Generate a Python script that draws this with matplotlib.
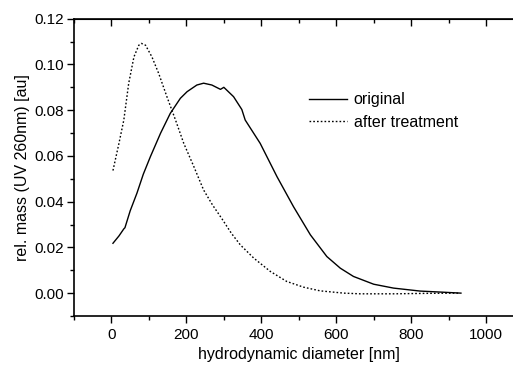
import matplotlib.pyplot as plt
from matplotlib.ticker import MultipleLocator

# original sample
x_orig = [4, 20, 33, 36, 50, 68, 85, 104, 131, 157, 184, 202, 228, 246, 268, 291, 300,
          326, 348, 357, 397, 442, 486, 531, 575, 611, 646, 700, 753, 824, 886, 933]
y_orig = [0.0218, 0.025, 0.0281, 0.0286, 0.036, 0.0437, 0.052, 0.0597, 0.0699, 0.0786,
          0.0852, 0.0881, 0.091, 0.0918, 0.091, 0.0891, 0.090, 0.0859, 0.0803, 0.0757,
          0.0655, 0.0509, 0.0378, 0.0255, 0.016, 0.0109, 0.0073, 0.0039, 0.0022, 0.0009,
          0.0004, 0.0]

# after treatment
x_treat = [4, 20, 33, 46, 60, 73, 80, 91, 108, 126, 148, 171, 193, 220, 246, 270, 295,
           320, 344, 380, 424, 468, 513, 557, 620, 664, 753, 842, 931]
y_treat = [0.0536, 0.0655, 0.0757, 0.0917, 0.1033, 0.1084, 0.1092, 0.1084, 0.1033, 0.0961,
           0.0859, 0.0757, 0.0655, 0.0553, 0.0451, 0.0385, 0.0325, 0.0262, 0.0211, 0.0153,
           0.0095, 0.0051, 0.0026, 0.001, 0.0, -0.0003, -0.0003, -0.0001, 0.0]

plt.rcParams['font.family'] = ['Liberation Sans', 'DejaVu Sans']
fs = 11.5

fig = plt.figure(figsize=(5.13, 3.67), dpi=100)
ax = fig.add_axes([74/513, 51/367, 449.5/513, 297.3/367])

ax.plot(x_orig, y_orig, color='black', lw=1.0, label='original')
ax.plot(x_treat, y_treat, color='black', lw=1.0, linestyle=(0, (1.2, 1.5)),
        label='after treatment')

ax.set_xlim(-100, 1100)
ax.set_ylim(-0.01, 0.12)
ax.xaxis.set_major_locator(MultipleLocator(200))
ax.xaxis.set_minor_locator(MultipleLocator(100))
ax.yaxis.set_major_locator(MultipleLocator(0.02))
ax.yaxis.set_minor_locator(MultipleLocator(0.01))
ax.yaxis.set_major_formatter(plt.FormatStrFormatter('%.2f'))

ax.tick_params(which='both', direction='out', top=False, right=False, labelsize=11)
ax.tick_params(which='major', length=5, width=1)
ax.tick_params(which='minor', length=3, width=1)
ax.tick_params(axis='y', pad=2)
sec = ax.secondary_xaxis('top')
sec.xaxis.set_major_locator(MultipleLocator(200))
sec.xaxis.set_minor_locator(MultipleLocator(100))
sec.tick_params(which='both', direction='in', labeltop=False, width=1)
sec.tick_params(which='major', length=5)
sec.tick_params(which='minor', length=3)
sec.set_xticklabels([])

for s in ax.spines.values():
    s.set_linewidth(1.2)
ax.spines['right'].set_visible(False)

ax.set_xlabel('hydrodynamic diameter [nm]', fontsize=fs, labelpad=4)
ax.set_ylabel('rel. mass (UV 260nm) [au]', fontsize=fs, labelpad=3)

ax.legend(loc='upper left', bbox_to_anchor=(0.523, 0.752), frameon=False, fontsize=fs,
          handlelength=2.4, handletextpad=0.4, labelspacing=0.45, borderpad=0,
          borderaxespad=0)

fig.savefig('out.png', dpi=100)
